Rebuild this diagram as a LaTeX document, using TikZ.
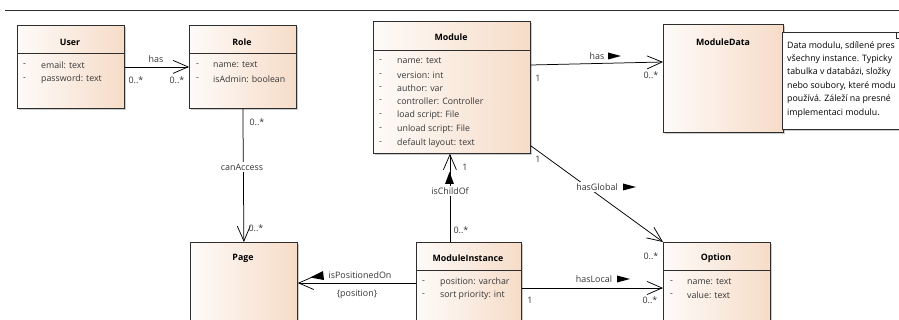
\documentclass[tikz,border=0pt]{standalone}
\usepackage{fontspec}
\setmainfont{Open Sans}
\usetikzlibrary{arrows.meta,shadows,calc}
\definecolor{peach}{HTML}{F6DCC8}
\definecolor{ink}{HTML}{2E2E2E}
\definecolor{txt}{HTML}{363636}
\tikzset{
  classbox/.style={draw=ink, line width=0.8pt, left color=peach!12, right color=peach,
    anchor=north west, inner sep=0pt,
    drop shadow={shadow xshift=1.8pt, shadow yshift=-1.8pt, fill=black!45, opacity=.45}},
  notebox/.style={draw=ink, line width=0.8pt, fill=white, anchor=north west, inner sep=0pt,
    drop shadow={shadow xshift=1.8pt, shadow yshift=-1.8pt, fill=black!45, opacity=.45}},
  title/.style={font=\fontsize{8.8}{10}\bfseries\selectfont, text=black, inner sep=0pt},
  attr/.style={anchor=west, font=\fontsize{8.8}{10}\selectfont, text=txt, inner sep=0pt},
  notetext/.style={anchor=west, font=\fontsize{8.8}{10}\selectfont, text=black, inner sep=0pt},
  lbl/.style={font=\fontsize{8.9}{10}\selectfont, text=txt, inner sep=1pt},
  cutlbl/.style={lbl, fill=white, inner sep=1.5pt},
  sep/.style={draw=ink, line width=0.8pt},
  assoc/.style={draw=black, line width=0.75pt},
  nav/.style={assoc, -{Straight Barb[length=15pt,width=13pt,line width=0.75pt]}},
  dirmark/.style={fill=black}
}
\begin{document}
\begin{tikzpicture}[x=1pt,y=-1pt]
\useasboundingbox (0,0) rectangle (899,320);
\clip (0,0) rectangle (899,320);
\fill[white] (0,0) rectangle (899,320);

% frame line across the top
\draw[ink, line width=0.8pt] (5,10) -- (905,10);

% ---------- classes ----------
\node[classbox, minimum width=107pt, minimum height=83pt] (user) at (17,25) {};
\node[classbox, minimum width=107pt, minimum height=83pt] (role) at (189,25) {};
\node[classbox, minimum width=157pt, minimum height=132pt] (module) at (373,21) {};
\node[classbox, minimum width=120pt, minimum height=108pt] (mdata) at (663,24) {};
\node[notebox, minimum width=140pt, minimum height=97pt] (note) at (782,32) {};
\node[classbox, minimum width=107pt, minimum height=95pt] (page) at (190,242) {};
\node[classbox, minimum width=105pt, minimum height=95pt] (inst) at (416,242) {};
\node[classbox, minimum width=107pt, minimum height=95pt] (option) at (663,242) {};

% folded corner of the note
\draw[ink, line width=0.8pt] (896,32) -- (896,38) -- (910,38);

% compartment separators
\draw[sep] (user.west |- 0,53) -- (user.east |- 0,53);
\draw[sep] (role.west |- 0,53) -- (role.east |- 0,53);
\draw[sep] (module.west |- 0,50) -- (module.east |- 0,50);
\draw[sep] (inst.west |- 0,270) -- (inst.east |- 0,270);
\draw[sep] (option.west |- 0,270) -- (option.east |- 0,270);

% class names
\node[title] (userT) at (70,42) {User};
\node[title] (roleT) at (242,42) {Role};
\node[title] (moduleT) at (451,37) {Module};
\node[title] (mdataT) at (723,42) {ModuleData};
\node[title] (pageT) at (243,258) {Page};
\node[title] (instT) at (468,258) {ModuleInstance};
\node[title] (optionT) at (716,258) {Option};

% attributes
\node[attr] (u1d) at (23,65) {-};  \node[attr] (u1) at (41,65) {email: text};
\node[attr] (u2d) at (23,79) {-};  \node[attr] (u2) at (41,79) {password: text};

\node[attr] (r1d) at (196,65) {-}; \node[attr] (r1) at (213,65) {name: text};
\node[attr] (r2d) at (196,79) {-}; \node[attr] (r2) at (213,79) {isAdmin: boolean};

\node[attr] (m1d) at (379,61) {-};  \node[attr] (m1) at (397,61) {name: text};
\node[attr] (m2d) at (379,75) {-};  \node[attr] (m2) at (397,75) {version: int};
\node[attr] (m3d) at (379,88) {-};  \node[attr] (m3) at (397,88) {author: var};
\node[attr] (m4d) at (379,101) {-}; \node[attr] (m4) at (397,101) {controller: Controller};
\node[attr] (m5d) at (379,115) {-}; \node[attr] (m5) at (397,115) {load script: File};
\node[attr] (m6d) at (379,129) {-}; \node[attr] (m6) at (397,129) {unload script: File};
\node[attr] (m7d) at (379,143) {-}; \node[attr] (m7) at (397,143) {default layout: text};

\node[attr] (i1d) at (422,282) {-}; \node[attr] (i1) at (440,282) {position: varchar};
\node[attr] (i2d) at (422,295) {-}; \node[attr] (i2) at (440,295) {sort priority: int};

\node[attr] (o1d) at (670,282) {-}; \node[attr] (o1) at (687,282) {name: text};
\node[attr] (o2d) at (670,295) {-}; \node[attr] (o2) at (687,295) {value: text};

% note text
\node[notetext] (n1) at (787,46) {Data modulu, sdílené pres};
\node[notetext] (n2) at (787,59) {všechny instance. Typicky};
\node[notetext] (n3) at (787,72) {tabulka v databázi, složky};
\node[notetext] (n4) at (787,86) {nebo soubory, které modu};
\node[notetext] (n5) at (787,99) {používá. Záleží na presné};
\node[notetext] (n6) at (787,113) {implementaci modulu.};

% ---------- associations ----------
% User has Role
\draw[nav] (user.east) -- (role.west);
\node[lbl] (hasUR) at (156,59) {has};
\node[lbl] (mUR1) at (136,80) {0..*};
\node[lbl] (mUR2) at (177,80) {0..*};

% Role canAccess Page
\draw[nav] (role.south) -- (page.north);
\node[cutlbl] (canAcc) at (242,167) {canAccess};
\node[lbl] (mRP1) at (257,122) {0..*};
\node[lbl] (mRP2) at (256,228) {0..*};

% Module has ModuleData
\draw[nav] ([yshift=-44pt]module.north east) -- ([yshift=-38pt]mdata.north west);
\node[lbl] (hasMD) at (597,56) {has};
\fill[dirmark] (608,52.5) -- (621,56) -- (608,59.5) -- cycle;
\node[lbl] (mMD1) at (538,78) {1};
\node[lbl] (mMD2) at (651,75) {0..*};

% Module hasGlobal Option
\draw[nav] ([yshift=8pt]module.south east) -- (option.north west);
\node[cutlbl] (hasG) at (597,187) {hasGlobal};
\fill[dirmark] (623,183.5) -- (636,187) -- (623,190.5) -- cycle;
\node[lbl] (mG1) at (538,159) {1};
\node[lbl] (mG2) at (651,256) {0..*};

% ModuleInstance isChildOf Module
\draw[nav] ([xshift=-2pt]inst.north -| module.south) -- ([xshift=-2pt]module.south);
\node[cutlbl] (child) at (450,191) {isChildOf};
\fill[dirmark] (449.5,172) -- (454,184) -- (445,184) -- cycle;
\node[lbl] (mC1) at (465,167) {1};
\node[lbl] (mC2) at (461,230) {0..*};

% ModuleInstance isPositionedOn Page
\draw[nav] ([yshift=-41pt]inst.north west) -- ([yshift=-41pt]page.north east);
\node[lbl] (posOn) at (360,275) {isPositionedOn};
\fill[dirmark] (310,277.5) -- (323,271) -- (324,280) -- cycle;
\node[lbl] (posQ) at (357,294) {\{position\}};

% ModuleInstance hasLocal Option
\draw[nav] ([yshift=-46pt]inst.north east) -- ([yshift=-46pt]option.north west);
\node[lbl] (hasL) at (594,279) {hasLocal};
\fill[dirmark] (617,275.5) -- (630,279) -- (617,282.5) -- cycle;
\node[lbl] (mL1) at (530,300) {1};
\node[lbl] (mL2) at (650,300) {0..*};
\end{tikzpicture}
\end{document}
